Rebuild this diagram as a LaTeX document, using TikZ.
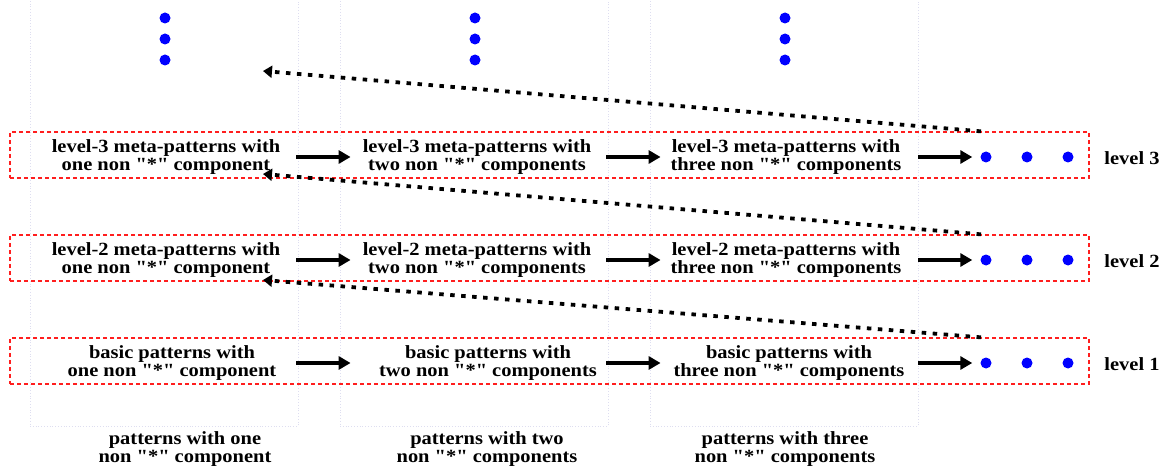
\documentclass[tikz,border=0pt]{standalone}
\usepackage{fontspec}
% straight quotes are wanted in the labels, so the TeX input mapping is off
\setmainfont{Liberation Serif}[FakeStretch=1.10, Ligatures=TeXOff]
\usetikzlibrary{arrows.meta}
\definecolor{boxred}{RGB}{255,30,30}
\definecolor{colgrid}{RGB}{222,222,240}
\definecolor{dotblue}{RGB}{0,0,255}
\newcommand{\qstar}{"*"}
\begin{document}
\begin{tikzpicture}[x=1pt,y=-1pt,
  lbl/.style={font=\bfseries\fontsize{18.6}{15.5}\selectfont, align=center, inner sep=2pt},
  lvlbox/.style={draw=boxred, dash pattern=on 4pt off 3pt, line width=1.3pt,
                 minimum width=1079pt, minimum height=46pt, inner sep=0pt},
  colbox/.style={draw=colgrid, dotted, line width=0.8pt,
                 minimum width=268pt, minimum height=429pt, inner sep=0pt},
  bdot/.style={circle, fill=dotblue, inner sep=0pt, minimum size=11pt},
  flow/.style={line width=3.2pt, -{Triangle[length=12pt,width=13pt]}},
  lift/.style={line width=3.8pt, dash pattern=on 4.5pt off 6.5pt,
               -{Triangle[length=9pt,width=12pt]}}
]
\useasboundingbox (0,0) rectangle (1163,468);

% column frames
\node[colbox] (f1) at (164,211.5) {};
\node[colbox] (f2) at (474,211.5) {};
\node[colbox] (f3) at (784,211.5) {};

% level frames
\node[lvlbox] (box3) at (549.5,155) {};
\node[lvlbox] (box2) at (549.5,258) {};
\node[lvlbox] (box1) at (549.5,361) {};

% vertical continuation dots
\foreach \c/\x in {1/165,2/475,3/785}{
  \node[bdot] (v\c a) at (\x,18) {};
  \node[bdot] (v\c b) at (\x,39) {};
  \node[bdot] (v\c c) at (\x,60) {};
}

% level 3
\node[lbl] (c31) at (166,157) {level-3 meta-patterns with\\one non \qstar{} component};
\node[lbl] (c32) at (477,157) {level-3 meta-patterns with\\two non \qstar{} components};
\node[lbl] (c33) at (786,157) {level-3 meta-patterns with\\three non \qstar{} components};
\node[lbl] (l3) at (1132,158) {level 3};

% level 2
\node[lbl] (c21) at (166,260) {level-2 meta-patterns with\\one non \qstar{} component};
\node[lbl] (c22) at (477,260) {level-2 meta-patterns with\\two non \qstar{} components};
\node[lbl] (c23) at (786,260) {level-2 meta-patterns with\\three non \qstar{} components};
\node[lbl] (l2) at (1132,261) {level 2};

% level 1
\node[lbl] (c11) at (172,363) {basic patterns with\\one non \qstar{} component};
\node[lbl] (c12) at (488,363) {basic patterns with\\two non \qstar{} components};
\node[lbl] (c13) at (789,363) {basic patterns with\\three non \qstar{} components};
\node[lbl] (l1) at (1132,364) {level 1};

% horizontal continuation dots of each level
\foreach \r/\y in {3/157,2/260,1/363}{
  \node[bdot] (d\r1) at (986,\y) {};
  \node[bdot] (d\r2) at (1027,\y) {};
  \node[bdot] (d\r3) at (1068,\y) {};
}

% column captions
\node[lbl] (k1) at (185,449) {patterns with one\\non \qstar{} component};
\node[lbl] (k2) at (487,449) {patterns with two\\non \qstar{} components};
\node[lbl] (k3) at (785,449) {patterns with three\\non \qstar{} components};

% growth along each level, between the column frames
\foreach \r in {3,2,1}{
  \draw[flow, shorten <=-2pt, shorten >=-11pt] (f1.east |- d\r1) -- (f2.west |- d\r1);
  \draw[flow, shorten <=-2pt, shorten >=-11pt] (f2.east |- d\r1) -- (f3.west |- d\r1);
  \draw[flow, shorten >=8pt] (f3.east |- d\r1) -- (d\r1);
}

% lifting to the next level
\coordinate (a3) at (263,71);
\coordinate (a2) at (263,174);
\coordinate (a1) at (263,280);
\draw[lift] ([xshift=-5pt]box3.north -| d31) -- (a3);
\draw[lift] ([xshift=-5pt]box2.north -| d21) -- (a2);
\draw[lift] ([xshift=-5pt]box1.north -| d11) -- (a1);
\end{tikzpicture}
\end{document}
